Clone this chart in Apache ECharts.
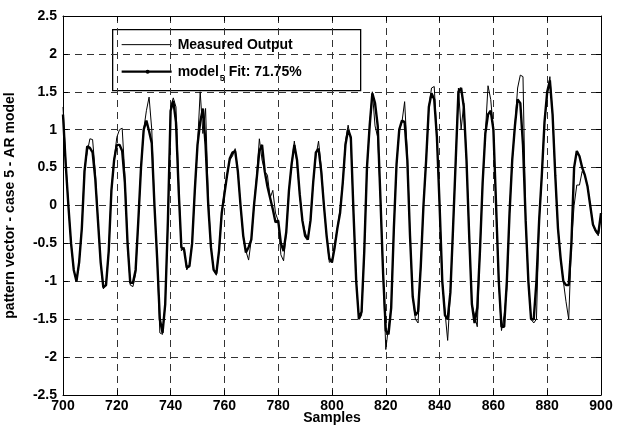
<!DOCTYPE html>
<html><head><meta charset="utf-8">
<script src="https://cdn.jsdelivr.net/npm/echarts@6/dist/echarts.min.js"></script>
<style>html,body{margin:0;padding:0;background:#fff}#c{width:619px;height:425px}</style>
</head><body><div id="c"></div>
<script>
const startSample = 700;
const measured = [
 1.3, 0.6, 0.0, -0.5, -0.85, -1.0, -0.75, -0.3, 0.5, 0.7,
 0.88, 0.87, 0.45, -0.2, -0.75, -1.1, -1.03, -0.6, 0.2, 0.6,
 0.9, 1.0, 1.02, 0.4, -0.5, -1.05, -1.07, -0.9, -0.2, 0.5,
 1.0, 1.25, 1.43, 1.0, 0.0, -0.7, -1.68, -1.7, -1.3, -0.2,
 1.3, 1.42, 1.3, 0.3, -0.6, -0.55, -0.85, -0.78, -0.5, 0.2,
 0.8, 1.5, 0.95, 1.28, 0.1, -0.55, -0.85, -0.92, -0.6, -0.1,
 0.2, 0.4, 0.6, 0.65, 0.75, 0.45, 0.0, -0.4, -0.6, -0.72,
 -0.45, 0.0, 0.4, 0.88, 0.6, 0.45, 0.4, 0.1, 0.2, -0.1,
 -0.2, -0.65, -0.73, -0.35, 0.2, 0.55, 0.85, 0.55, 0.15, -0.2,
 -0.35, -0.45, -0.2, 0.3, 0.65, 0.85, 0.5, 0.0, -0.4, -0.75,
 -0.72, -0.5, -0.3, -0.05, 0.3, 0.85, 1.06, 0.85, -0.1, -1.0,
 -1.5, -1.45, -0.6, 0.5, 1.05, 1.5, 1.05, 0.9, 0.1, -0.9,
 -1.9, -1.6, -1.35, -0.3, 0.55, 1.0, 1.1, 1.37, 0.7, -0.4,
 -1.2, -1.5, -1.55, -0.8, 0.0, 0.6, 1.3, 1.55, 1.57, 0.9,
 0.0, -1.0, -1.4, -1.78, -1.15, -0.3, 0.6, 1.55, 1.0, 1.35,
 0.6, -0.4, -1.3, -1.45, -1.6, -0.6, 0.3, 0.95, 1.58, 1.4,
 1.0, 0.0, -1.0, -1.65, -1.45, -1.1, -0.1, 0.6, 1.05, 1.55,
 1.72, 1.7, -0.2, -1.0, -1.5, -1.55, -1.5, -0.2, 0.4, 1.1,
 1.45, 1.7, 1.2, 0.4, -0.3, -0.7, -1.0, -1.27, -1.5, -0.5,
 0.0, 0.27, 0.27, 0.45, 0.4, 0.25, 0.0, -0.25, -0.35, -0.4,
 -0.1
];
const model = [
 1.2, 0.55, 0.0, -0.5, -0.85, -1.0, -0.75, -0.3, 0.45, 0.78,
 0.76, 0.7, 0.35, -0.2, -0.75, -1.08, -1.05, -0.6, 0.2, 0.6,
 0.8, 0.8, 0.72, 0.3, -0.5, -1.02, -1.02, -0.85, -0.2, 0.5,
 1.0, 1.12, 0.98, 0.82, 0.0, -0.7, -1.5, -1.68, -1.3, -0.2,
 1.25, 1.38, 1.1, 0.2, -0.55, -0.58, -0.82, -0.8, -0.5, 0.2,
 0.8, 1.1, 1.28, 0.8, 0.0, -0.55, -0.85, -0.9, -0.6, -0.1,
 0.15, 0.4, 0.62, 0.7, 0.72, 0.45, 0.0, -0.4, -0.62, -0.55,
 -0.45, 0.0, 0.35, 0.72, 0.8, 0.45, 0.25, 0.1, -0.05, -0.22,
 -0.2, -0.5, -0.6, -0.35, 0.2, 0.55, 0.8, 0.6, 0.15, -0.2,
 -0.4, -0.45, -0.2, 0.3, 0.7, 0.75, 0.45, 0.0, -0.4, -0.7,
 -0.75, -0.55, -0.3, -0.1, 0.3, 0.8, 1.0, 0.9, -0.1, -1.0,
 -1.5, -1.4, -0.6, 0.5, 1.05, 1.48, 1.35, 1.05, 0.1, -0.9,
 -1.65, -1.7, -1.35, -0.3, 0.55, 1.0, 1.12, 1.1, 0.6, -0.4,
 -1.2, -1.45, -1.4, -0.8, 0.0, 0.6, 1.3, 1.48, 1.4, 0.9,
 0.0, -1.0, -1.45, -1.5, -1.15, -0.3, 0.6, 1.5, 1.55, 1.3,
 0.6, -0.4, -1.3, -1.55, -1.35, -0.6, 0.3, 0.95, 1.2, 1.25,
 1.0, 0.0, -1.0, -1.6, -1.6, -1.0, -0.1, 0.6, 1.05, 1.4,
 1.35, 0.8, -0.2, -1.0, -1.5, -1.5, -1.0, -0.2, 0.4, 1.1,
 1.5, 1.65, 1.2, 0.4, -0.3, -0.7, -1.0, -1.05, -1.05, -0.5,
 0.5, 0.72, 0.65, 0.5, 0.4, 0.25, 0.0, -0.25, -0.33, -0.37,
 -0.1
];
const xTicks = {min: 700, max: 900, interval: 20};
const yTicks = {min: -2.5, max: 2.5, interval: 0.5};
const seriesNames = ['Measured Output', 'model5 Fit: 71.75%'];

const toPairs = arr => arr.map((v, i) => [startSample + i, v]);
const font = '"Liberation Sans", Arial, sans-serif';
const chart = echarts.init(document.getElementById('c'), null, {renderer: 'canvas'});
const dash = {type: [7, 5], color: '#333', width: 1};
const lblStyle = {fontFamily: font, fontWeight: 'bold', fontSize: 14, color: '#000'};
chart.setOption({
  animation: false,
  backgroundColor: '#fff',
  grid: {left: 63, right: 18, top: 16, bottom: 30, show: false, outerBoundsMode: 'none', containLabel: false},
  xAxis: [{
    type: 'value', min: xTicks.min, max: xTicks.max, interval: xTicks.interval,
    name: 'Samples', nameLocation: 'middle', nameGap: 16, nameMoveOverlap: false,
    nameTextStyle: Object.assign({verticalAlign: 'top'}, lblStyle),
    axisLine: {show: true, onZero: false, lineStyle: {color: '#000', width: 1}},
    axisTick: {show: true, inside: true, length: 5, lineStyle: {color: '#000'}},
    axisLabel: Object.assign({margin: 4}, lblStyle),
    splitLine: {show: true, lineStyle: dash}
  }, {
    type: 'value', position: 'top', min: xTicks.min, max: xTicks.max, interval: xTicks.interval,
    axisLine: {show: true, onZero: false, lineStyle: {color: '#000', width: 1}},
    axisTick: {show: true, inside: true, length: 5, lineStyle: {color: '#000'}},
    axisLabel: {show: false}, splitLine: {show: false}
  }],
  yAxis: [{
    type: 'value', min: yTicks.min, max: yTicks.max, interval: yTicks.interval,
    name: 'pattern vector - case 5 - AR model', nameLocation: 'middle', nameGap: 46, nameRotate: 90,
    nameMoveOverlap: false,
    nameTextStyle: lblStyle,
    axisLine: {show: true, onZero: false, lineStyle: {color: '#000', width: 1}},
    axisTick: {show: true, inside: true, length: 5, lineStyle: {color: '#000'}},
    axisLabel: Object.assign({margin: 6}, lblStyle),
    splitLine: {show: true, lineStyle: dash}
  }, {
    type: 'value', position: 'right', min: yTicks.min, max: yTicks.max, interval: yTicks.interval,
    axisLine: {show: true, onZero: false, lineStyle: {color: '#000', width: 1}},
    axisTick: {show: true, inside: true, length: 5, lineStyle: {color: '#000'}},
    axisLabel: {show: false}, splitLine: {show: false}
  }],
  graphic: [{
    type: 'group', left: 112, top: 29, z: 100,
    children: [
      {type: 'rect', shape: {x: 0, y: 0, width: 248, height: 61},
       style: {fill: '#fff', stroke: '#000', lineWidth: 1.3}},
      {type: 'line', shape: {x1: 9, y1: 15, x2: 59, y2: 15},
       style: {stroke: '#000', lineWidth: 1}},
      {type: 'text', x: 65, y: 15,
       style: {text: seriesNames[0], font: 'bold 14px ' + font, fill: '#000', verticalAlign: 'middle'}},
      {type: 'line', shape: {x1: 9, y1: 42, x2: 59, y2: 42},
       style: {stroke: '#000', lineWidth: 2.2}},
      {type: 'circle', shape: {cx: 35, cy: 42, r: 2}, style: {fill: '#000'}},
      {type: 'text', x: 65, y: 42,
       style: {text: 'model', font: 'bold 14px ' + font, fill: '#000', verticalAlign: 'middle'}},
      {type: 'text', x: 107, y: 49,
       style: {text: '5', font: 'bold 9px ' + font, fill: '#000', verticalAlign: 'middle'}},
      {type: 'text', x: 116, y: 42,
       style: {text: 'Fit: 71.75%', font: 'bold 14px ' + font, fill: '#000', verticalAlign: 'middle'}}
    ]
  }],
  series: [{
    name: seriesNames[0], type: 'line', data: toPairs(measured),
    symbol: 'none', lineStyle: {color: '#000', width: 1}, itemStyle: {color: '#000'}, z: 3
  }, {
    name: seriesNames[1], type: 'line', data: toPairs(model),
    symbol: 'none', lineStyle: {color: '#000', width: 2.4}, itemStyle: {color: '#000'}, z: 2
  }]
});
</script></body></html>
